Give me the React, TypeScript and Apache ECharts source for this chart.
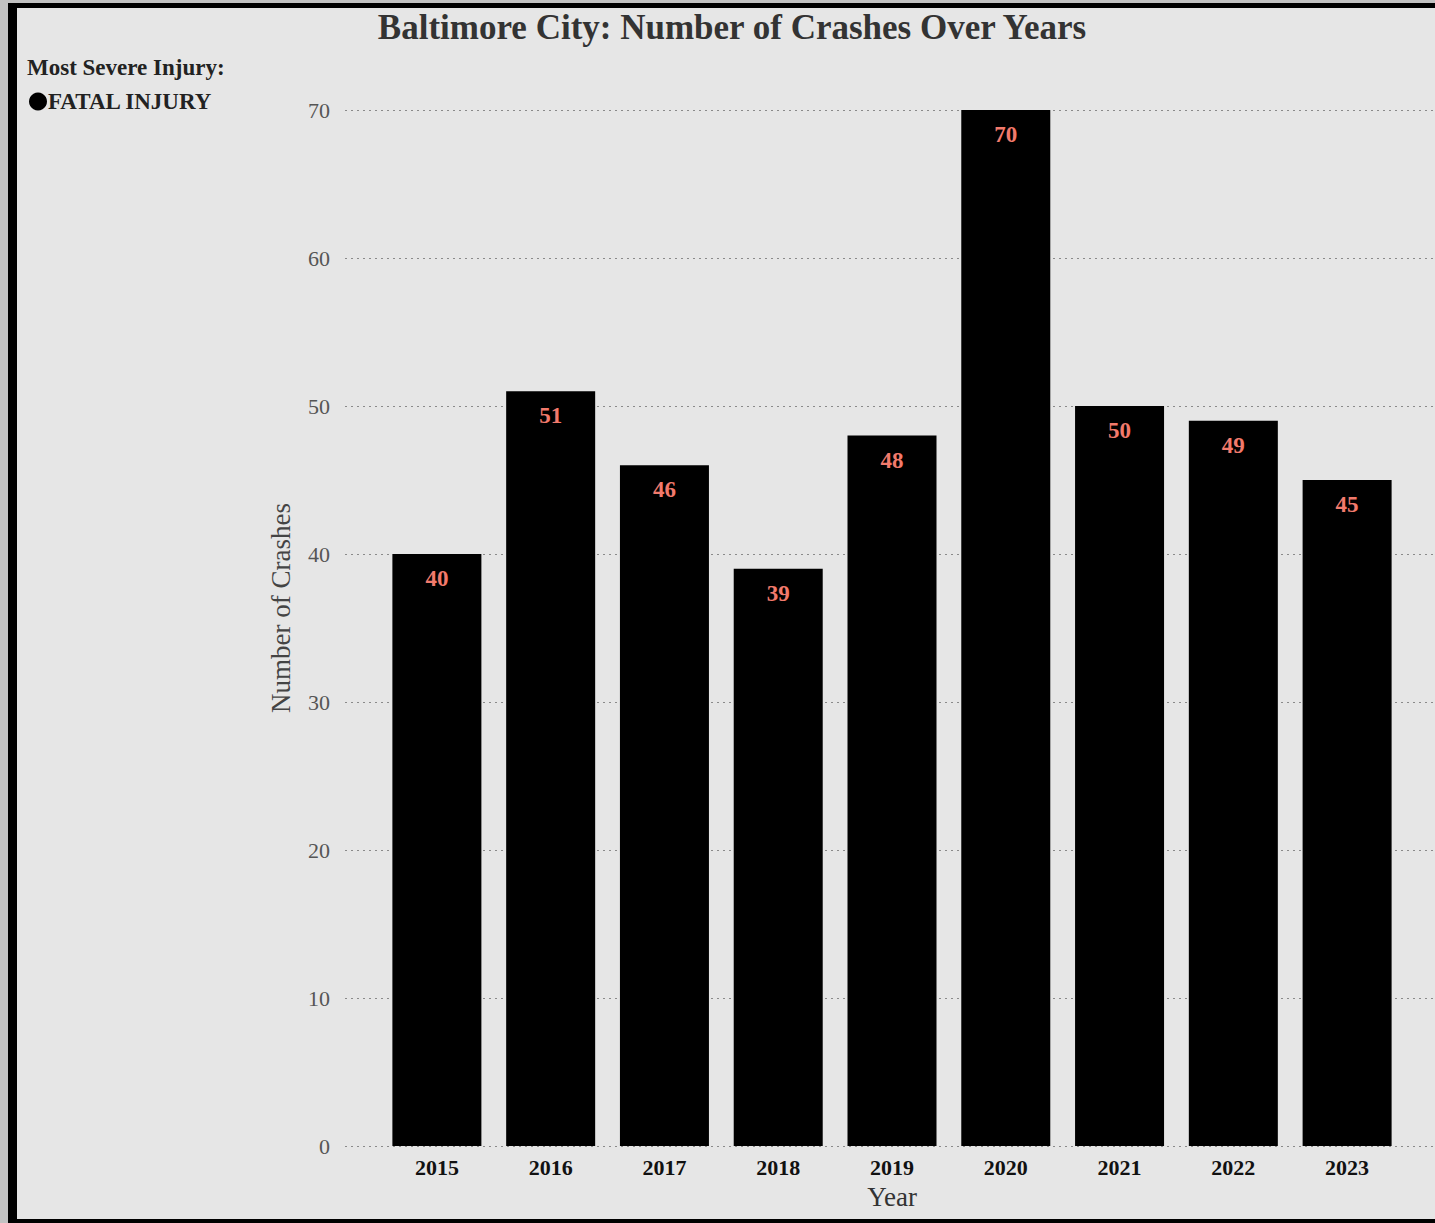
import React, { useEffect, useRef } from "react";
import * as echarts from "echarts";

const years = ["2015", "2016", "2017", "2018", "2019", "2020", "2021", "2022", "2023"];
const crashes = [40, 51, 46, 39, 48, 70, 50, 49, 45];
const seriesName = "FATAL INJURY";
const titleText = "Baltimore City: Number of Crashes Over Years";
const legendTitle = "Most Severe Injury:";
const yAxisTitle = "Number of Crashes";

const SERIF = "'Liberation Serif', 'Times New Roman', serif";

export default function App() {
  const ref = useRef<HTMLDivElement>(null);
  useEffect(() => {
    if (!ref.current) return;
    const chart = echarts.init(ref.current, undefined, { renderer: "svg" });
    chart.setOption({
      animation: false,
      backgroundColor: "transparent",
      textStyle: { fontFamily: SERIF },
      title: {
        text: titleText,
        left: 732,
        textAlign: "center",
        top: 10,
        padding: 0,
        textStyle: { fontFamily: SERIF, fontSize: 35, fontWeight: "bold", color: "#333333" },
      },
      graphic: [
        {
          type: "text",
          left: 27,
          top: 56,
          style: { text: legendTitle, font: `bold 23px ${SERIF}`, fill: "#222222" },
        },
        {
          type: "text",
          x: 281,
          y: 608,
          rotation: Math.PI / 2,
          style: {
            text: yAxisTitle,
            font: `27px ${SERIF}`,
            fill: "#444444",
            align: "center",
            verticalAlign: "middle",
          },
        },
      ],
      legend: {
        left: 29,
        top: 90,
        padding: 0,
        icon: "circle",
        itemWidth: 18,
        itemHeight: 18,
        itemGap: 4,
        data: [seriesName],
        textStyle: { fontFamily: SERIF, fontSize: 23, fontWeight: "bold", color: "#222222", padding: [0, 0, 0, -4] },
      },
      grid: [
        { left: 345, right: 0, top: 110, bottom: 1223 - 1146 },
        { left: 380, width: 1024, top: 110, bottom: 1223 - 1146 },
      ],
      xAxis: [
        { type: "value", gridIndex: 0, show: false, min: 0, max: 1 },
        {
          type: "category",
          gridIndex: 1,
          data: years,
          axisLine: { show: false },
          axisTick: { show: false },
          axisLabel: { fontFamily: SERIF, fontSize: 22, fontWeight: "bold", color: "#111111", margin: 10 },
          name: "Year",
          nameLocation: "middle",
          nameGap: 37,
          nameTextStyle: { fontFamily: SERIF, fontSize: 27, color: "#333333" },
        },
      ],
      yAxis: [
        {
          type: "value",
          gridIndex: 0,
          min: 0,
          max: 70,
          interval: 10,
          axisLine: { show: false },
          axisTick: { show: false },
          axisLabel: { fontFamily: SERIF, fontSize: 22, color: "#555555", margin: 15 },
          splitLine: { show: true, lineStyle: { type: [2, 4], color: "#8a8a8a", width: 1 } },
        },
        { type: "value", gridIndex: 1, min: 0, max: 70, interval: 10, show: false, splitLine: { show: false } },
      ],
      series: [
        {
          name: seriesName,
          type: "bar",
          xAxisIndex: 1,
          yAxisIndex: 1,
          data: crashes,
          barWidth: 89,
          itemStyle: { color: "#000000" },
          label: {
            show: true,
            position: "insideTop",
            distance: 13,
            fontFamily: SERIF,
            fontSize: 23,
            fontWeight: "bold",
            color: "#f27a6c",
          },
        },
      ],
    });
    return () => chart.dispose();
  }, []);

  return (
    <div style={{ position: "fixed", left: 0, top: 0, width: 1435, height: 1223, background: "#c2c2c2", overflow: "hidden" }}>
      <div
        style={{
          position: "absolute",
          left: 8,
          top: 3,
          width: 1440,
          height: 1220,
          background: "#000000",
        }}
      />
      <div
        style={{
          position: "absolute",
          left: 17,
          top: 8,
          width: 1430,
          height: 1211,
          background: "#e6e6e6",
        }}
      />
      <div ref={ref} style={{ position: "absolute", left: 0, top: 0, width: 1435, height: 1223 }} />
    </div>
  );
}
